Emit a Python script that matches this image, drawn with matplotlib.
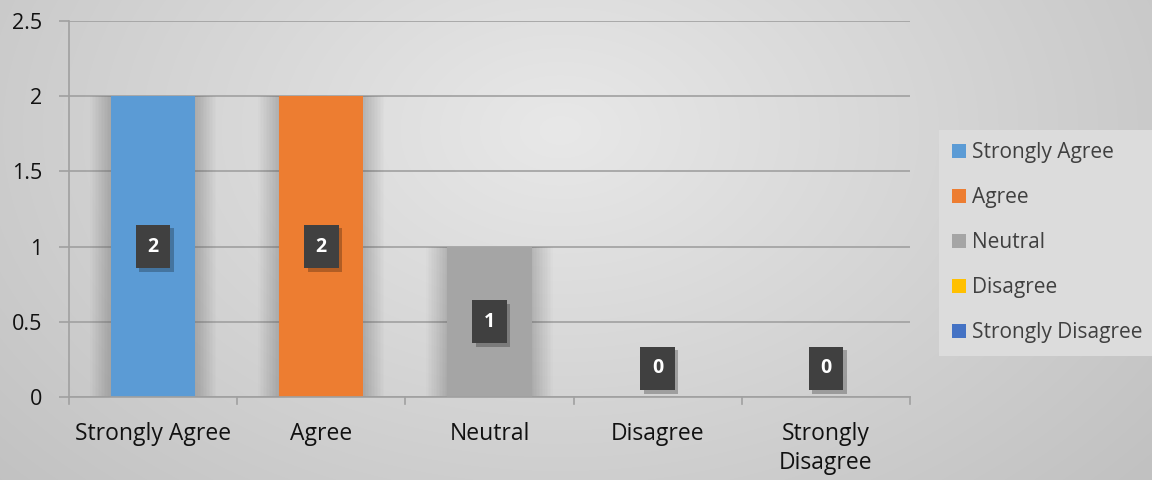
import numpy as np
import matplotlib
matplotlib.use("Agg")
import matplotlib.pyplot as plt
from matplotlib import patheffects
from matplotlib.patches import Patch

categories = ["Strongly Agree", "Agree", "Neutral", "Disagree", "Strongly\nDisagree"]
legend_labels = ["Strongly Agree", "Agree", "Neutral", "Disagree", "Strongly Disagree"]
values = [2, 2, 1, 0, 0]
colors = ["#5B9BD5", "#ED7D31", "#A5A5A5", "#FFC000", "#4472C4"]
yticks = [0, 0.5, 1, 1.5, 2, 2.5]
ytick_labels = ["0", "0.5", "1", "1.5", "2", "2.5"]

plt.rcParams['font.family'] = ['Open Sans', 'DejaVu Sans']

W, H = 1152, 480
fig = plt.figure(figsize=(W / 100, H / 100), dpi=100)

# radial gradient background
bg = fig.add_axes([0, 0, 1, 1], zorder=-10)
yy, xx = np.mgrid[0:H, 0:W]
r = np.sqrt(((xx - 560) / 760.0) ** 2 + ((yy - 130) / 520.0) ** 2)
r = np.clip(r, 0, 1)
light = np.array([0.91, 0.91, 0.91])
dark = np.array([0.76, 0.76, 0.76])
img = light[None, None, :] * (1 - r[..., None]) + dark[None, None, :] * r[..., None]
bg.imshow(img, extent=[0, W, H, 0], aspect='auto')
bg.axis('off')

ax = fig.add_axes([69 / W, 1 - 397 / H, (910 - 69) / W, (397 - 21) / H])
ax.set_facecolor('none')

x = np.arange(len(categories))
bw = 0.5

# soft shadows behind bars
nsh = 14
for xi, v in zip(x, values):
    if v > 0:
        for k in range(nsh):
            d = 0.008 + k * 0.009
            ax.bar(xi, v, width=bw + 2 * d, color='black', alpha=0.012, zorder=1.5, linewidth=0)

ax.bar(x, values, width=bw, color=colors, zorder=2, linewidth=0)

ax.set_xlim(-0.5, len(categories) - 0.5)
ax.set_ylim(0, 2.5)
ax.set_yticks(yticks)
ax.set_yticklabels(ytick_labels)
ax.set_xticks(x)
ax.set_xticklabels(categories, linespacing=1.3)
ax.tick_params(axis='x', length=0, pad=18, labelsize=16.5, colors='#111111')
ax.tick_params(axis='y', length=7, width=1.2, color='#a0a0a0', pad=12, labelsize=15.5, colors='#111111')
ax.yaxis.grid(True, color='#a0a0a0', linewidth=1.2, zorder=0)
ax.set_axisbelow(True)

# category separator ticks
for b in np.arange(-0.5, len(categories), 1.0):
    ax.plot([b, b], [0, -0.045], color='#a0a0a0', lw=1.2, clip_on=False, zorder=3)

for s in ['top', 'right']:
    ax.spines[s].set_visible(False)
for s in ['left', 'bottom']:
    ax.spines[s].set_color('#a0a0a0')
    ax.spines[s].set_linewidth(1.2)

# data labels
for xi, v in zip(x, values):
    ypos = max(v / 2.0, 0.19)
    t = ax.text(xi, ypos, str(v), ha='center', va='center', fontsize=14, fontweight='bold',
                color='white', zorder=5,
                bbox=dict(boxstyle='square,pad=0.6', fc='#404040', ec='none'))
    t.get_bbox_patch().set_path_effects([
        patheffects.SimplePatchShadow(offset=(2.5, -2.5), shadow_rgbFace='black', alpha=0.25),
        patheffects.Normal()])

handles = [Patch(facecolor=c, edgecolor='none') for c in colors]
leg = fig.legend(handles, legend_labels, loc='upper left', bbox_to_anchor=(939 / W, 1 - 130 / H),
                 frameon=True, fontsize=15, handlelength=0.7, handleheight=0.7,
                 handletextpad=0.3, labelspacing=1.15, borderpad=0.6, fancybox=False,
                 borderaxespad=0)
leg.get_frame().set_facecolor('#dcdcdc')
leg.get_frame().set_edgecolor('none')
leg.get_frame().set_alpha(1)
for t in leg.get_texts():
    t.set_color('#404040')

fig.savefig('out.png', dpi=100)
